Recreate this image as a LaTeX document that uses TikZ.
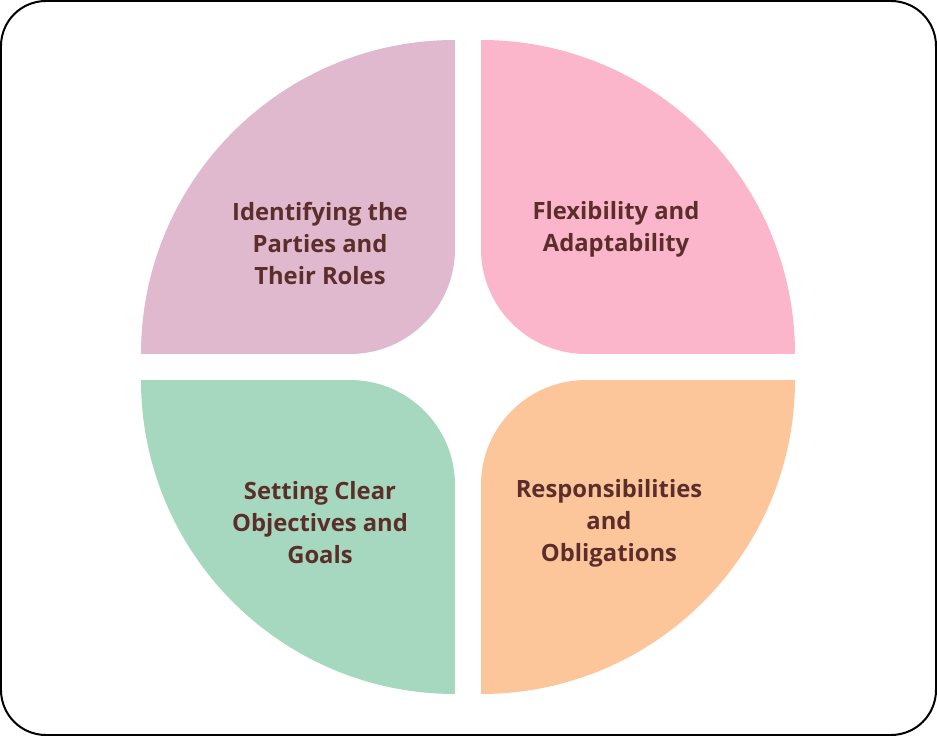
\documentclass[tikz,border=0pt]{standalone}
\usepackage{fontspec}
\setmainfont{Open Sans}
\definecolor{mauve}{HTML}{E0B9CF}
\definecolor{rose}{HTML}{FBB6CB}
\definecolor{mint}{HTML}{A6D8C0}
\definecolor{peach}{HTML}{FDC69A}
\definecolor{cocoa}{HTML}{5C2E2B}
\begin{document}
\begin{tikzpicture}[x=1pt,y=1pt,font=\fontsize{23.8}{32}\selectfont\bfseries,line join=round,line cap=round]
	\tikzset{label/.style={text=cocoa,align=center}}
	\useasboundingbox (-468,-369) rectangle (469,367);
	\draw[line width=2pt,rounded corners=45pt] (-467,-368) rectangle (468,366);
	\foreach \ang/\col in {0/rose,90/mauve,180/mint,270/peach}
	\fill[\col,rotate=\ang] (13,327) arc[start angle=90,end angle=0,radius=314]
		-- (118,13) arc[start angle=-90,end angle=-180,radius=105] -- cycle;
	\node[label] (roles) at (-148,123) {Identifying the\\Parties and\\Their Roles};
	\node[label] (flex) at (148,138) {Flexibility and\\Adaptability};
	\node[label] (goals) at (-148,-156) {Setting Clear\\Objectives and\\Goals};
	\node[label] (duties) at (141,-156) {Responsibilities\\and\\Obligations};
\end{tikzpicture}
\end{document}
